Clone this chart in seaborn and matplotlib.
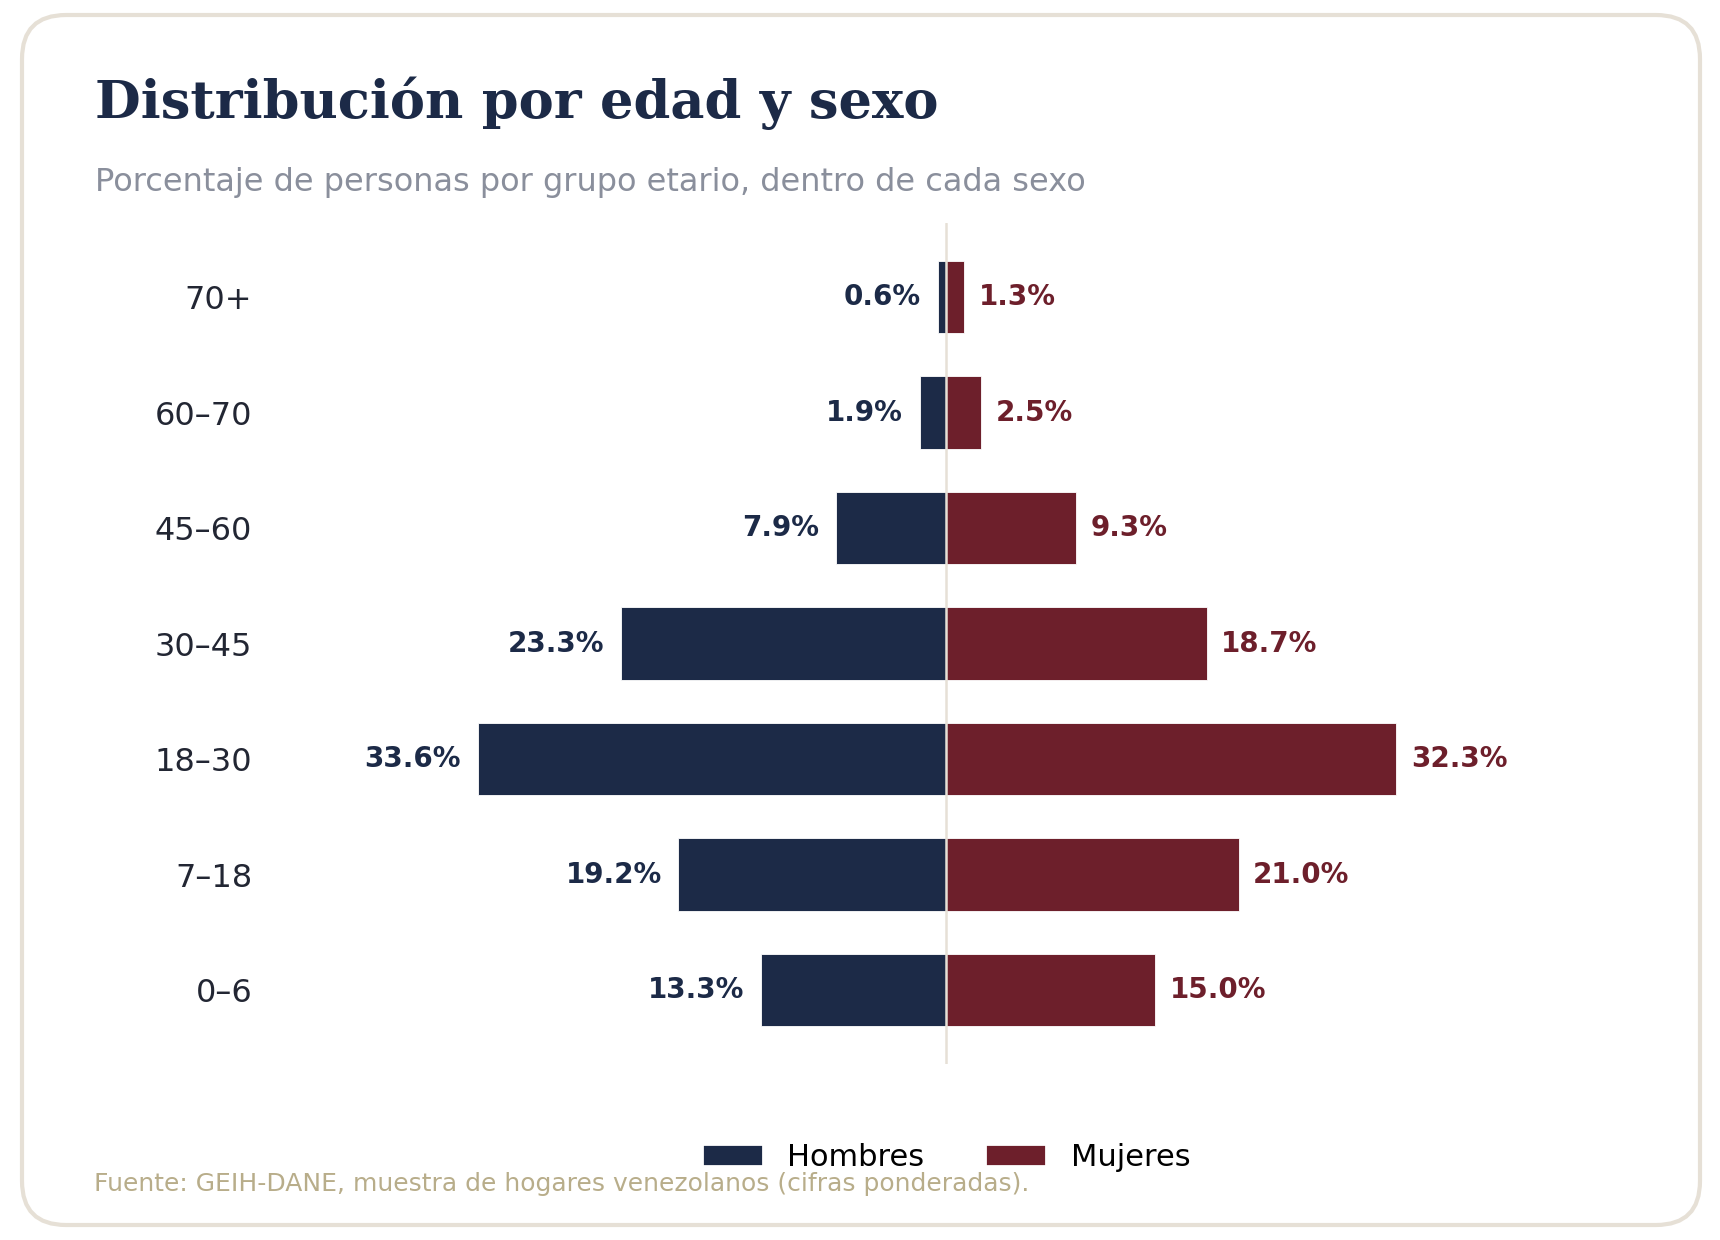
import matplotlib
matplotlib.use("Agg")
import matplotlib.pyplot as plt
from matplotlib.patches import FancyBboxPatch, Patch
import seaborn as sns
import pandas as pd

# ---- data ----
grupos = ["70+", "60–70", "45–60", "30–45", "18–30", "7–18", "0–6"]
hombres = [0.6, 1.9, 7.9, 23.3, 33.6, 19.2, 13.3]
mujeres = [1.3, 2.5, 9.3, 18.7, 32.3, 21.0, 15.0]
series = ["Hombres", "Mujeres"]

titulo = "Distribución por edad y sexo"
subtitulo = "Porcentaje de personas por grupo etario, dentro de cada sexo"
fuente = "Fuente: GEIH-DANE, muestra de hogares venezolanos (cifras ponderadas)."

C_H = "#1c2a47"
C_M = "#6d1f2b"

sns.set_style("white")
plt.rcParams["font.family"] = ["DejaVu Sans"]

df = pd.DataFrame({
    "grupo": grupos * 2,
    "valor": [-v for v in hombres] + mujeres,
    "sexo": ["Hombres"] * len(grupos) + ["Mujeres"] * len(grupos),
})

fig = plt.figure(figsize=(8.6, 6.2), dpi=200, facecolor="white")

# rounded frame
frame = FancyBboxPatch((0.11, 0.075), 8.39, 6.05,
                       boxstyle="round,pad=0,rounding_size=0.22",
                       transform=fig.dpi_scale_trans,
                       facecolor="white", edgecolor="#e6e0d6", linewidth=1.5,
                       zorder=-10)
fig.patches.append(frame)

ax = fig.add_axes([0.1547, 0.1419, 0.7907, 0.6782])
ax.set_facecolor("none")
ax.set_zorder(2)
sns.barplot(data=df, x="valor", y="grupo", hue="sexo", order=grupos,
            hue_order=series, palette={"Hombres": C_H, "Mujeres": C_M},
            dodge=False, width=0.625, orient="h", ax=ax, saturation=1,
            edgecolor="white", linewidth=0.3, legend=False)

vmax = max(max(hombres), max(mujeres))
ax.set_xlim(-vmax * 1.452, vmax * 1.452)
ax.set_ylim(len(grupos) - 1 + 0.64, -0.64)
ax.axvline(0, color="#e6e0d6", lw=0.9, zorder=5)

for i, (h, m) in enumerate(zip(hombres, mujeres)):
    ax.annotate(f"{h:.1f}%", xy=(-h, i), xytext=(-6, 0), textcoords="offset points",
                ha="right", va="center", fontsize=10, fontweight="bold", color=C_H)
    ax.annotate(f"{m:.1f}%", xy=(m, i), xytext=(5.2, 0), textcoords="offset points",
                ha="left", va="center", fontsize=10, fontweight="bold", color=C_M)

ax.set_xlabel("")
ax.set_ylabel("")
ax.set_xticks([])
ax.tick_params(axis="y", length=0, pad=5, labelsize=11.5, labelcolor="#222633")
for s in ax.spines.values():
    s.set_visible(False)

handles = [Patch(facecolor=C_H, label="Hombres"), Patch(facecolor=C_M, label="Mujeres")]
leg = fig.legend(handles=handles, loc="center", bbox_to_anchor=(0.55, 0.0669), ncol=2,
                 frameon=False, fontsize=11, labelcolor="black")
leg.set_zorder(3)

fig.text(0.0552, 0.905, titulo, fontsize=19, fontweight="bold", family=["DejaVu Serif"],
         color=C_H, va="baseline", ha="left")
fig.text(0.0552, 0.846, subtitulo, fontsize=11.5, color="#8a8f9c", va="baseline", ha="left")
fig.text(0.0547, 1 - 1184 / 1240, fuente, fontsize=9, color="#b8ad8a", va="center", ha="left")

fig.savefig("out.png", dpi=200, facecolor="white")
